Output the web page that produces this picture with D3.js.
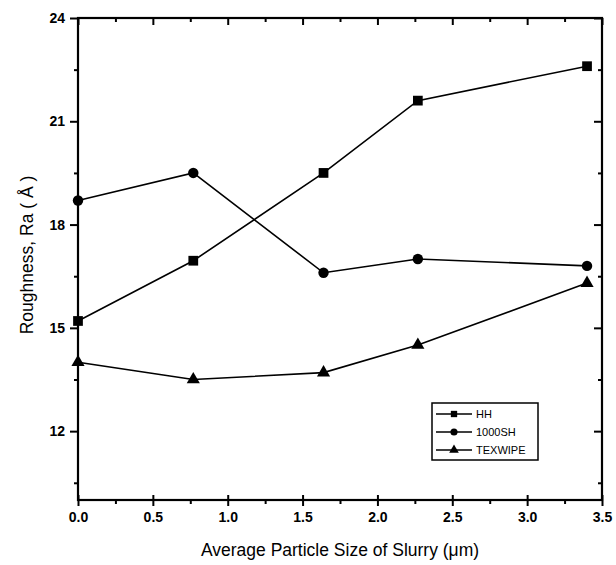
<!DOCTYPE html>
<html>
<head>
<meta charset="utf-8">
<script src="https://cdn.jsdelivr.net/npm/d3@7"></script>
<style>
body{margin:0;background:#fff;}
text{font-family:"Liberation Sans",Arial,sans-serif;}
</style>
</head>
<body>
<svg id="chart" width="616" height="565"></svg>
<script>
const sizes = [0, 0.77, 1.64, 2.27, 3.4];
const hh = [15.2, 16.95, 19.5, 21.6, 22.6];
const sh1000 = [18.7, 19.5, 16.6, 17.0, 16.8];
const texwipe = [14.0, 13.5, 13.7, 14.5, 16.3];
const seriesNames = ["HH", "1000SH", "TEXWIPE"];
const xTicks = [0, 0.5, 1.0, 1.5, 2.0, 2.5, 3.0, 3.5];
const yTicks = [12, 15, 18, 21, 24];

const svg = d3.select("#chart");
const L = 78, R = 602, T = 18, B = 500;
const x = d3.scaleLinear().domain([0, 3.5]).range([L, R]);
const y = d3.scaleLinear().domain([10, 24]).range([B, T]);

const series = [
  {name: seriesNames[0], vals: hh, sym: d3.symbolSquare, size: 95},
  {name: seriesNames[1], vals: sh1000, sym: d3.symbolCircle, size: 85},
  {name: seriesNames[2], vals: texwipe, sym: d3.symbolTriangle, size: 75}
];

// frame
svg.append("rect").attr("x", L).attr("y", T).attr("width", R - L).attr("height", B - T)
  .attr("fill", "none").attr("stroke", "#000").attr("stroke-width", 2.2);

const minorX = d3.range(0.25, 3.5, 0.5);
const minorY = d3.range(10.5, 24, 3);

// bottom axis
const gB = svg.append("g").attr("transform", `translate(0,${B})`)
  .call(d3.axisBottom(x).tickValues(xTicks).tickFormat(d3.format(".1f")).tickSize(6).tickPadding(6));
gB.selectAll(".tick line").attr("y1", -5);
svg.append("g").attr("transform", `translate(0,${B})`)
  .call(d3.axisBottom(x).tickValues(minorX).tickFormat("").tickSize(4));
// top axis (inward)
svg.append("g").attr("transform", `translate(0,${T})`)
  .call(d3.axisBottom(x).tickValues(xTicks).tickFormat("").tickSize(7));
svg.append("g").attr("transform", `translate(0,${T})`)
  .call(d3.axisBottom(x).tickValues(minorX).tickFormat("").tickSize(4));
// left axis
svg.append("g").attr("transform", `translate(${L},0)`)
  .call(d3.axisLeft(y).tickValues(yTicks).tickSize(8).tickPadding(5));
svg.append("g").attr("transform", `translate(${L},0)`)
  .call(d3.axisLeft(y).tickValues(minorY).tickFormat("").tickSize(4));
// right axis (inward)
svg.append("g").attr("transform", `translate(${R},0)`)
  .call(d3.axisLeft(y).tickValues(yTicks).tickFormat("").tickSize(8));
svg.append("g").attr("transform", `translate(${R},0)`)
  .call(d3.axisLeft(y).tickValues(minorY).tickFormat("").tickSize(4));

svg.selectAll(".domain").remove();
svg.selectAll(".tick line").attr("stroke", "#000").attr("stroke-width", 2);
svg.selectAll(".tick text").attr("font-size", 14).attr("font-weight", "bold").attr("fill", "#000")
  .attr("font-family", "'Liberation Sans',Arial,sans-serif");

// axis titles
svg.append("text").attr("x", (L + R) / 2).attr("y", 556).attr("text-anchor", "middle")
  .attr("font-size", 17.5).text("Average Particle Size of Slurry (\u03bcm)");
svg.append("text").attr("transform", `translate(33,${(T + B) / 2 - 4}) rotate(-90)`)
  .attr("text-anchor", "middle").attr("font-size", 17.5).text("Roughness, Ra ( \u00c5 )");

// series
const line = d3.line().x((d, i) => x(sizes[i])).y(d => y(d));
series.forEach(s => {
  svg.append("path").datum(s.vals).attr("d", line).attr("fill", "none")
    .attr("stroke", "#000").attr("stroke-width", 1.6);
  svg.selectAll(null).data(s.vals).enter().append("path")
    .attr("d", d3.symbol().type(s.sym).size(s.size))
    .attr("transform", (d, i) => `translate(${x(sizes[i])},${y(d)})`)
    .attr("fill", "#000");
});

// legend
const lg = svg.append("g").attr("transform", "translate(432,403)");
lg.append("rect").attr("width", 106).attr("height", 57).attr("fill", "#fff")
  .attr("stroke", "#000").attr("stroke-width", 1.5);
series.forEach((s, i) => {
  const yy = 11 + i * 18;
  lg.append("line").attr("x1", 4).attr("x2", 40).attr("y1", yy).attr("y2", yy)
    .attr("stroke", "#000").attr("stroke-width", 1.5);
  lg.append("path").attr("d", d3.symbol().type(s.sym).size(40)).attr("transform", `translate(22,${yy})`).attr("fill", "#000");
  lg.append("text").attr("x", 44).attr("y", yy + 4).attr("font-size", 11).text(s.name);
});
</script>
</body>
</html>
